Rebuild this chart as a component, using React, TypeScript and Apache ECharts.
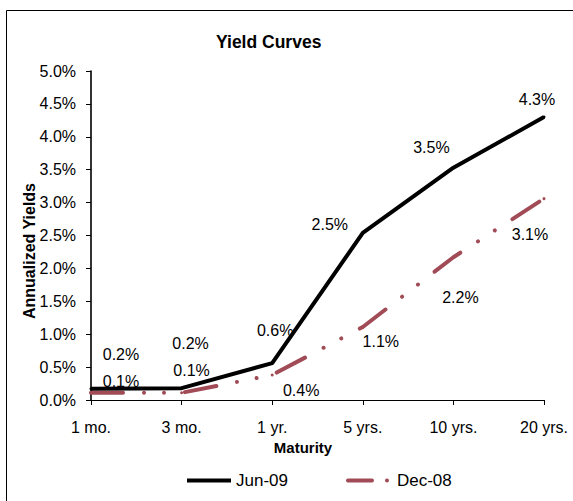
import React, { useEffect, useRef } from "react";
import * as echarts from "echarts";

const categories = ["1 mo.", "3 mo.", "1 yr.", "5 yrs.", "10 yrs.", "20 yrs."];
const jun09 = [0.17, 0.18, 0.56, 2.54, 3.53, 4.3];
const dec08 = [0.11, 0.11, 0.38, 1.11, 2.17, 3.06];
const seriesNames = ["Jun-09", "Dec-08"];
const yTicks = { min: 0, max: 5, interval: 0.5 };

// label offsets (layout only)
const junLabelOffsets = [[30, -34], [9, -45], [3, -33], [-33, -8], [-22, -20], [-7, -18]];
const decLabelOffsets = [[30, -11], [10, -22], [29, 16], [18, 15], [7, 40], [-14, 36]];

const FONT = "'Liberation Sans', Arial, sans-serif";
const DEC_COLOR = "#A04B56";

export default function App() {
  const ref = useRef<HTMLDivElement>(null);
  useEffect(() => {
    document.body.style.margin = "0";
    if (!ref.current) return;
    const chart = echarts.init(ref.current, undefined, { renderer: "svg" });
    const mk = (vals: number[], offs: number[][]) =>
      vals.map((v, i) => ({ value: v, label: { offset: offs[i] } }));
    const labelCommon = {
      show: true,
      position: "inside",
      fontFamily: FONT,
      fontSize: 16,
      color: "#000",
      formatter: (p: any) => p.value.toFixed(1) + "%",
    };
    chart.setOption({
      animation: false,
      textStyle: { fontFamily: FONT },
      title: {
        text: "Yield Curves",
        left: 216,
        top: 32,
        padding: 0,
        textStyle: { fontFamily: FONT, fontSize: 17.5, fontWeight: "bold", color: "#000", lineHeight: 20 },
      },
      grid: { left: 91, right: 29, top: 71, bottom: 101, containLabel: false },
      xAxis: {
        type: "category",
        data: categories,
        boundaryGap: false,
        axisLine: { lineStyle: { color: "#000", width: 1.2 } },
        axisTick: { alignWithLabel: true, length: 5, lineStyle: { color: "#000" } },
        axisLabel: { color: "#000", fontFamily: FONT, fontSize: 16, margin: 19 },
        splitLine: { show: false },
      },
      yAxis: {
        type: "value",
        min: yTicks.min,
        max: yTicks.max,
        interval: yTicks.interval,
        axisLine: { show: true, lineStyle: { color: "#000", width: 1.6 } },
        axisTick: { show: true, length: 5, lineStyle: { color: "#000" } },
        axisLabel: {
          color: "#000",
          fontFamily: FONT,
          fontSize: 16,
          margin: 15,
          formatter: (v: number) => v.toFixed(1) + "%",
        },
        splitLine: { show: false },
      },
      legend: {
        left: 180,
        top: 467,
        itemWidth: 44,
        itemHeight: 5,
        itemGap: 58,
        itemStyle: { opacity: 0 },
        lineStyle: { width: 4 },
        textStyle: { fontFamily: FONT, fontSize: 17, color: "#000" },
        data: [
          { name: seriesNames[0] },
          { name: seriesNames[1], lineStyle: { width: 4, type: [24, 15, 0.01, 30], cap: "round" } },
        ],
      },
      graphic: [
        {
          type: "rect",
          shape: { x: 6.5, y: 10.5, width: 700, height: 700 },
          style: { fill: "none", stroke: "#000", lineWidth: 1 },
          silent: true,
        },
        {
          type: "text",
          x: 303,
          y: 447,
          style: { text: "Maturity", font: `bold 15px ${FONT}`, fill: "#000", align: "center", verticalAlign: "middle" },
        },
        {
          type: "text",
          x: 29,
          y: 251,
          rotation: Math.PI / 2,
          style: { text: "Annualized Yields", font: `bold 16px ${FONT}`, fill: "#000", align: "center", verticalAlign: "middle" },
        },
      ],
      series: [
        {
          name: seriesNames[0],
          type: "line",
          data: mk(jun09, junLabelOffsets),
          symbol: "circle",
          symbolSize: 3,
          showSymbol: true,
          itemStyle: { color: "#000" },
          lineStyle: { color: "#000", width: 4 },
          label: labelCommon,
          z: 3,
        },
        {
          name: seriesNames[1],
          type: "line",
          data: mk(dec08, decLabelOffsets),
          symbol: "circle",
          symbolSize: 3,
          showSymbol: true,
          itemStyle: { color: DEC_COLOR },
          lineStyle: { color: DEC_COLOR, width: 4, type: [32, 21, 0.01, 20, 0.01, 21], cap: "round" },
          label: labelCommon,
          z: 2,
        },
      ],
    });
    return () => chart.dispose();
  }, []);
  return <div ref={ref} style={{ width: 573, height: 501 }} />;
}
